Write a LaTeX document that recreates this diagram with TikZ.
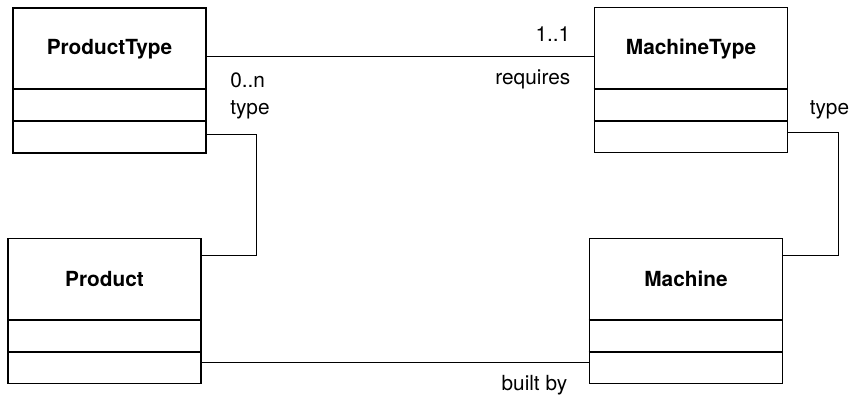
\documentclass[tikz,border=0pt]{standalone}
\usepackage{fontspec}
\setmainfont{TeX Gyre Heros}
\usetikzlibrary{calc}

\begin{document}
\begin{tikzpicture}[x=0.5pt,y=-0.5pt,font=\fontsize{10.4}{12}\selectfont,
 cls/.style={draw,line width=0.9pt,minimum width=96.5pt,minimum height=72.5pt,inner sep=0pt},
 clsname/.style={font=\fontsize{10.4}{12}\selectfont\bfseries},
 assoc/.style={line width=0.5pt},
 role/.style={inner sep=0pt}]
\useasboundingbox (0,0) rectangle (852,402);
% classes (y runs downwards, in pixels of the page)
\node[cls] (pt) at (109.5,80.5) {};
\node[cls] (mt) at (691,80) {};
\node[cls] (p) at (104.5,311) {};
\node[cls] (m) at (686,311) {};
\foreach \c in {pt,mt,p,m}{
  \draw[line width=0.9pt] ($(\c.north west)+(0,82)$) -- ($(\c.north east)+(0,82)$);
  \draw[line width=0.9pt] ($(\c.north west)+(0,114)$) -- ($(\c.north east)+(0,114)$);
}
\node[clsname] (ptname) at ($(pt.north)+(0,42)$) {ProductType};
\node[clsname] (mtname) at ($(mt.north)+(0,42)$) {MachineType};
\node[clsname] (pname) at ($(p.north)+(0,41)$) {Product};
\node[clsname] (mname) at ($(m.north)+(0,41)$) {Machine};
% associations
\coordinate (ptout) at ($(pt.north east)+(0,49)$);
\draw[assoc] (ptout) -- (ptout -| mt.west);
\coordinate (ptbend) at ($(pt.north east)+(50,127)$);
\draw[assoc] (pt.east |- ptbend) -- (ptbend) |- ($(p.north east)+(0,18)$);
\coordinate (mtbend) at ($(mt.north east)+(50,126)$);
\draw[assoc] (mt.east |- mtbend) -- (mtbend) |- ($(m.north east)+(0,18)$);
\coordinate (pout) at ($(p.north east)+(0,125)$);
\draw[assoc] (pout) -- (pout -| m.west);
% roles and multiplicities
\node[role,anchor=east] (mult11) at ($(mt.north west)+(-23,28)$) {1..1};
\node[role,anchor=east] (requires) at ($(mt.north west)+(-23,73)$) {requires};
\node[role,anchor=west] (mult0n) at ($(pt.north east)+(23,73)$) {0..n};
\node[role,anchor=west] (ptype) at ($(pt.north east)+(23,103)$) {type};
\node[role,anchor=west] (mtype) at ($(mt.north east)+(21,103)$) {type};
\node[role,anchor=east] (builtby) at ($(m.north west)+(-21,148)$) {built by};
\end{tikzpicture}
\end{document}
